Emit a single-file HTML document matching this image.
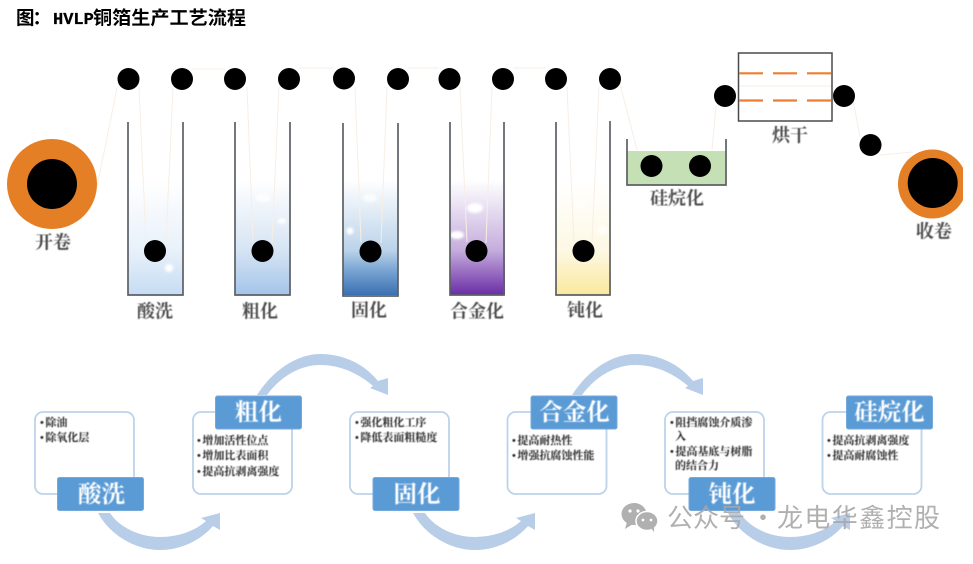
<!DOCTYPE html>
<html><head><meta charset="utf-8">
<style>
html,body{margin:0;padding:0;background:#fff;width:973px;height:564px;overflow:hidden}
svg{display:block}
text{font-family:"Liberation Serif","Noto Serif CJK SC",serif}
.ti{font-family:"Noto Sans CJK SC",sans-serif;font-size:18.5px;font-weight:700;fill:#000}
.t{font-size:18px;font-weight:700;fill:#4a4a4a;text-anchor:middle}
.b{font-size:11px;font-weight:700;fill:#222}
.l{font-size:23.5px;font-weight:700;fill:#fff;text-anchor:middle}
.box{fill:#fff;stroke:#bdd3ea;stroke-width:1.8}
.lab{fill:#5b9bd5;stroke:#74a9dc;stroke-width:1}
.tank{fill:none;stroke:#5c6066;stroke-width:1.7}
.tape{fill:none;stroke:#f8eee4;stroke-width:1}
.arr{fill:#b8cde7}
</style></head>
<body>
<svg width="973" height="564" viewBox="0 0 973 564" xmlns="http://www.w3.org/2000/svg">
<defs>
<filter id="s" x="-10%" y="-10%" width="120%" height="120%"><feGaussianBlur stdDeviation="0.4"/></filter>
<filter id="s2" x="-50%" y="-50%" width="200%" height="200%"><feGaussianBlur stdDeviation="1.2"/></filter>
<linearGradient id="g1" x1="0" y1="0" x2="0" y2="1"><stop offset="0" stop-color="#fff"/><stop offset=".61" stop-color="#e8f1fa"/><stop offset="1" stop-color="#c6dcf3"/></linearGradient>
<linearGradient id="g2" x1="0" y1="0" x2="0" y2="1"><stop offset="0" stop-color="#fff"/><stop offset=".61" stop-color="#d6e4f4"/><stop offset="1" stop-color="#a4c4ea"/></linearGradient>
<linearGradient id="g3" x1="0" y1="0" x2="0" y2="1"><stop offset="0" stop-color="#fff"/><stop offset=".61" stop-color="#bcd3ea"/><stop offset=".78" stop-color="#7ba6d4"/><stop offset="1" stop-color="#3a70b2"/></linearGradient>
<linearGradient id="g4" x1="0" y1="0" x2="0" y2="1"><stop offset="0" stop-color="#fff"/><stop offset=".61" stop-color="#c5addd"/><stop offset=".78" stop-color="#9d74c5"/><stop offset="1" stop-color="#6a2ea6"/></linearGradient>
<linearGradient id="g5" x1="0" y1="0" x2="0" y2="1"><stop offset="0" stop-color="#fff"/><stop offset=".61" stop-color="#fdf8e4"/><stop offset="1" stop-color="#fae99c"/></linearGradient>
</defs>

<text class="ti" x="16" y="24.500" textLength="35">图：</text>
<text x="53" y="24" style="font-family:'Liberation Mono',monospace;font-size:17px;font-weight:700;fill:#000;stroke:#000;stroke-width:.3">HVLP</text>
<text class="ti" x="93" y="24.500" textLength="153" lengthAdjust="spacingAndGlyphs">铜箔生产工艺流程</text>

<!-- liquid -->
<rect x="128" y="180" width="55" height="115" fill="url(#g1)"/>
<rect x="235" y="180" width="55" height="115" fill="url(#g2)"/>
<rect x="343" y="180" width="55" height="115" fill="url(#g3)"/>
<rect x="450" y="180" width="55" height="115" fill="url(#g4)"/>
<rect x="556" y="180" width="55" height="115" fill="url(#g5)"/>
<rect x="627" y="151" width="99" height="34" fill="#c5e0b4"/>

<!-- bubbles -->
<g fill="#fff" filter="url(#s2)">
<circle cx="169" cy="268" r="4"/>
<ellipse cx="263" cy="198" rx="7" ry="4" opacity=".7"/><ellipse cx="282" cy="221" rx="4" ry="2.500"/>
<ellipse cx="370" cy="198" rx="7" ry="4" opacity=".7"/><circle cx="350" cy="231" r="3.500"/>
<ellipse cx="475" cy="208" rx="8" ry="5"/><ellipse cx="457" cy="235" rx="7" ry="4"/>
<ellipse cx="580" cy="204" rx="7" ry="4" opacity=".6"/><ellipse cx="602" cy="230" rx="5" ry="4" opacity=".8"/>
</g>

<!-- tape -->
<g class="tape">
<path d="M97,187 L117,88"/>
<path d="M192,69 H225 M299,68 H334 M408,68 H439 M513,68 H546"/>
<path d="M620,84 L637,150"/>
<path d="M139,87 L146,242 M173,88 L166,243 M247,87 L253,242 M279,87 L272,243 M355,87 L361,242 M387,87 L381,243 M460,87 L467,242 M492,87 L486,243 M567,87 L574,242 M599,87 L592,243"/>
<path d="M712,150 L716,106 M738,86 H832 M853,100 L860,137 M880,155 L913,152"/>
</g>

<!-- tanks -->
<path class="tank" d="M128,122 V295 H183 V122"/>
<path class="tank" d="M235,122 V295 H290 V122"/>
<path class="tank" d="M343,123 V296 H398 V123"/>
<path class="tank" d="M450,122 V295 H504 V122"/>
<path class="tank" d="M556,122 V295 H610 V121"/>
<path class="tank" d="M627,139 V185 H726 V139"/>

<!-- oven -->
<rect x="738.500" y="53" width="93.500" height="68" fill="none" stroke="#4a4a4a" stroke-width="1.500"/>
<path d="M739,73.300 H763 M773,73.300 H797 M807,73.300 H831 M739,100.500 H763 M773,100.500 H797 M807,100.500 H831" stroke="#ed7d31" stroke-width="2.200" fill="none"/>

<!-- coils -->
<circle cx="52" cy="184" r="45" fill="#e57f26"/>
<circle cx="52" cy="184" r="25" fill="#000"/>
<circle cx="932.500" cy="184" r="34.500" fill="#e57f26"/>
<circle cx="932.700" cy="183" r="25" fill="#000"/>
<rect x="963" y="140" width="10" height="90" fill="#fff"/>

<!-- rollers -->
<g fill="#000">
<circle cx="128.500" cy="79" r="11"/><circle cx="182" cy="79" r="11"/><circle cx="235" cy="79" r="11"/><circle cx="289" cy="79" r="11"/>
<circle cx="344" cy="78.500" r="11"/><circle cx="398" cy="79" r="11"/><circle cx="449.500" cy="79" r="11"/><circle cx="503" cy="79" r="11"/>
<circle cx="556" cy="79" r="11"/><circle cx="610" cy="79" r="11"/>
<circle cx="155" cy="251" r="11"/><circle cx="262.500" cy="251" r="11"/><circle cx="370.500" cy="251.500" r="11"/><circle cx="476.500" cy="251" r="11"/><circle cx="583.500" cy="251" r="11"/>
<circle cx="651.500" cy="166" r="11"/><circle cx="700" cy="166" r="11"/>
<circle cx="725" cy="96" r="11"/><circle cx="844" cy="96" r="11"/><circle cx="870.500" cy="145" r="11"/>
</g>

<!-- top labels -->
<g filter="url(#s)">
<text class="t" x="53" y="248.500">开卷</text>
<text class="t" x="155" y="317.500">酸洗</text>
<text class="t" x="260" y="317.500">粗化</text>
<text class="t" x="369" y="316.500">固化</text>
<text class="t" x="477" y="317.500">合金化</text>
<text class="t" x="585" y="316.500">钝化</text>
<text class="t" x="677" y="204.500">硅烷化</text>
<text class="t" x="790" y="141.500">烘干</text>
<text class="t" x="934" y="237.500">收卷</text>
</g>

<!-- arrows -->
<path class="arr" d="M98,513 L110,513 C120,528 140,537 160,537 C178,537 195,531 206,521 L201,518 L220,513 L220,530 L213,526 C200,541 180,550 160,550 C135,550 110,535 98,513 Z"/>
<path class="arr" transform="translate(315,0)" d="M98,513 L110,513 C120,528 140,537 160,537 C178,537 195,531 206,521 L201,518 L220,513 L220,530 L213,526 C200,541 180,550 160,550 C135,550 110,535 98,513 Z"/>
<path class="arr" transform="translate(630,0)" d="M98,513 L110,513 C120,528 140,537 160,537 C178,537 195,531 206,521 L201,518 L220,513 L220,530 L213,526 C200,541 180,550 160,550 C135,550 110,535 98,513 Z"/>
<path class="arr" d="M257,395 C275,367 300,354 320,354 C345,354 365,365 378,381 L388,378 L388,395 L370,388 L373,386 C358,373 340,365 320,365 C300,365 280,377 267,395 Z"/>
<path class="arr" transform="translate(315,0)" d="M257,395 C275,367 300,354 320,354 C345,354 365,365 378,381 L388,378 L388,395 L370,388 L373,386 C358,373 340,365 320,365 C300,365 280,377 267,395 Z"/>

<!-- boxes -->
<rect class="box" x="35" y="412" width="99" height="82" rx="8"/>
<rect class="box" x="193" y="412" width="99" height="82" rx="8"/>
<rect class="box" x="350" y="412" width="99" height="82" rx="8"/>
<rect class="box" x="507.500" y="412" width="99" height="82" rx="8"/>
<rect class="box" x="665" y="412" width="99" height="82" rx="8"/>
<rect class="box" x="822.500" y="412" width="99" height="82" rx="8"/>

<g filter="url(#s)">
<text class="b" x="40" y="426">•<tspan dx="1.500">除油</tspan></text>
<text class="b" x="40" y="441">•<tspan dx="1.500">除氧化层</tspan></text>
<text class="b" x="197" y="444">•<tspan dx="1.500">增加活性位点</tspan></text>
<text class="b" x="197" y="459">•<tspan dx="1.500">增加比表面积</tspan></text>
<text class="b" x="197" y="475">•<tspan dx="1.500">提高抗剥离强度</tspan></text>
<text class="b" x="355" y="426">•<tspan dx="1.500">强化粗化工序</tspan></text>
<text class="b" x="355" y="441">•<tspan dx="1.500">降低表面粗糙度</tspan></text>
<text class="b" x="512" y="444">•<tspan dx="1.500">提高耐热性</tspan></text>
<text class="b" x="512" y="459">•<tspan dx="1.500">增强抗腐蚀性能</tspan></text>
<text class="b" x="670" y="426">•<tspan dx="1.500">阻挡腐蚀介质渗</tspan></text>
<text class="b" x="675" y="440">入</text>
<text class="b" x="670" y="455">•<tspan dx="1.500">提高基底与树脂</tspan></text>
<text class="b" x="675" y="469">的结合力</text>
<text class="b" x="827" y="444">•<tspan dx="1.500">提高抗剥离强度</tspan></text>
<text class="b" x="827" y="459">•<tspan dx="1.500">提高耐腐蚀性</tspan></text>
</g>

<!-- label tabs -->
<rect class="lab" x="57.500" y="477.500" width="86" height="33" rx="2"/>
<rect class="lab" x="215.500" y="396" width="86" height="33" rx="2"/>
<rect class="lab" x="373" y="477.500" width="86" height="33" rx="2"/>
<rect class="lab" x="531" y="396" width="86" height="33" rx="2"/>
<rect class="lab" x="689" y="477.500" width="86" height="33" rx="2"/>
<rect class="lab" x="846.500" y="396" width="86" height="33" rx="2"/>
<g filter="url(#s)">
<text class="l" x="101.500" y="502">酸洗</text>
<text class="l" x="258.500" y="420">粗化</text>
<text class="l" x="417" y="502">固化</text>
<text class="l" x="574.500" y="420">合金化</text>
<text class="l" x="732" y="502">钝化</text>
<text class="l" x="889.500" y="420">硅烷化</text>
</g>

<!-- watermark -->
<g opacity=".9" fill="#a8a8a8">
<ellipse cx="634" cy="514" rx="12.500" ry="11"/>
<path d="M627,522 L625,529 L633,524 Z"/>
<ellipse cx="647" cy="521" rx="11" ry="9.500" stroke="#fff" stroke-width="1.500"/>
<path d="M651,528 L654,532 L654,526 Z"/>
<circle cx="630" cy="511" r="1.600" fill="#fff"/><circle cx="638" cy="511" r="1.600" fill="#fff"/>
<circle cx="643" cy="520" r="1.400" fill="#fff"/><circle cx="651" cy="520" r="1.400" fill="#fff"/>
<text x="667" y="527" style="font-family:'Noto Sans CJK SC',sans-serif;font-size:26px;font-weight:400">公众号</text>
<text x="750" y="527" style="font-family:'Noto Sans CJK SC',sans-serif;font-size:26px;font-weight:400">·</text>
<text x="777" y="527" style="font-family:'Noto Sans CJK SC',sans-serif;font-size:26px;letter-spacing:1.400px">龙电华鑫控股</text>
</g>
</svg>
</body></html>
